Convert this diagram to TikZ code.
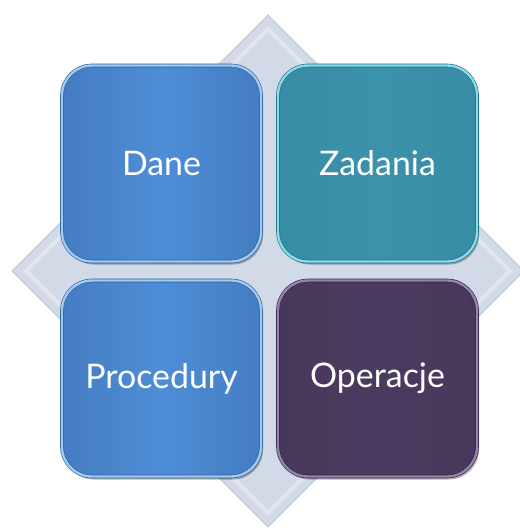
\documentclass[tikz,border=0pt]{standalone}
\usepackage{fontspec}
\setmainfont{Lato}
\usetikzlibrary{positioning,shadows}
\definecolor{diamondfill}{HTML}{D3DAE7}
\definecolor{diamondedge}{HTML}{BFC6D3}
\definecolor{blueA}{HTML}{457CC1}
\definecolor{blueB}{HTML}{4E8ED7}
\definecolor{blueRim}{HTML}{9DCBF2}
\definecolor{blueEdge}{HTML}{2F5D97}
\definecolor{tealA}{HTML}{388DA5}
\definecolor{tealB}{HTML}{3C92AA}
\definecolor{tealRim}{HTML}{86DCEC}
\definecolor{tealEdge}{HTML}{23687C}
\definecolor{purpA}{HTML}{47385B}
\definecolor{purpB}{HTML}{4B3B60}
\definecolor{purpRim}{HTML}{9582AE}
\definecolor{purpEdge}{HTML}{2E2340}
\tikzset{
	tile/.style={shape=rectangle, rounded corners=30bp, minimum width=199bp, minimum height=196bp,
		inner sep=0pt, outer sep=0pt, text=white, font=\fontsize{34}{40}\selectfont,
		line width=0.6bp, double distance=2.4bp,
		drop shadow={shadow xshift=2bp, shadow yshift=-3bp, opacity=.3, fill=black}},
	blue tile/.style={tile, left color=blueA, right color=blueA, middle color=blueB, draw=blueEdge, double=blueRim},
	teal tile/.style={tile, left color=tealA, right color=tealA, middle color=tealB, draw=tealEdge, double=tealRim},
	purple tile/.style={tile, left color=purpA, right color=purpA, middle color=purpB, draw=purpEdge, double=purpRim}
}
\begin{document}
\begin{tikzpicture}[x=1bp, y=-1bp]
	\useasboundingbox (0, 0) rectangle (520, 529);
	% background diamond
	\fill[diamondfill, draw=diamondedge, line width=1bp] (268, 15) -- (12, 271) -- (268, 527) -- (524, 271) -- cycle;
	\draw[white, opacity=.3, line width=4bp] (268, 29) -- (26, 271) -- (268, 513) -- (510, 271) -- cycle;
	% four tiles
	\node[blue tile] (dane) at (161.5, 163.5) {Dane};
	\node[teal tile, right=17bp of dane] (zadania) {Zadania};
	\node[blue tile, below=19bp of dane] (procedury) {Procedury};
	\node[purple tile, right=17bp of procedury] (operacje) {Operacje};
\end{tikzpicture}
\end{document}
